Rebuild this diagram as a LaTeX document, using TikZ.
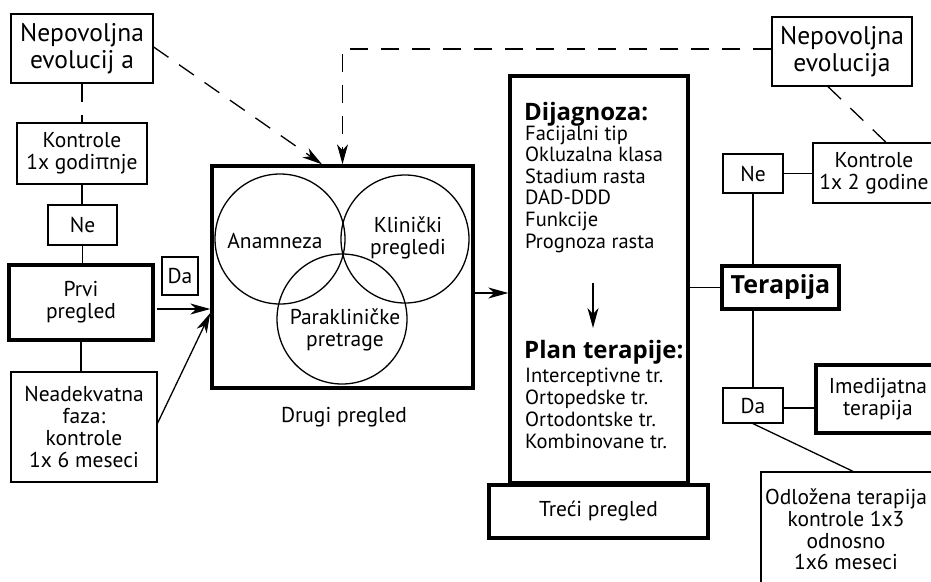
\documentclass[tikz,border=0pt]{standalone}
\usepackage{fontspec}
\setmainfont{PT Sans}
\newfontfamily\pifont{Open Sans}
\newfontfamily\headfont{Open Sans Bold}
\usetikzlibrary{arrows.meta}

\begin{document}
\begin{tikzpicture}[x=1pt,y=-1pt,
  every node/.style={font=\fontsize{21.5}{21.8}\selectfont, inner sep=0pt},
  wide/.style={font=\fontsize{25.5}{27}\selectfont},
  listfont/.style={font=\fontsize{20.5}{21.6}\selectfont},
  head/.style={font=\headfont\fontsize{24}{24}\selectfont},
  box/.style={draw, line width=1.3pt, align=center},
  bbox/.style={draw, line width=3.4pt, align=center},
  conn/.style={line width=1.3pt},
  dashln/.style={line width=1.3pt, dash pattern=on 18pt off 13pt},
  arr/.style={-{Stealth[length=20pt,width=11pt,inset=6pt]}},
  ring/.style={circle, draw, line width=1.3pt, inner sep=0pt},
  listline/.style={anchor=base west}
]
\clip (0,0) rectangle (931,581);
\fill[white] (0,0) rectangle (931,581);

% ---- left column ----
\node[box, wide, minimum width=142pt, minimum height=69pt] (nep1) at (82,48.5) {Nepovoljna\\evolucij a};
\node[box, minimum width=130pt, minimum height=61pt] (kon1) at (82,153.5) {Kontrole\\1x godi{\pifont π}nje};
\node[box, minimum width=69pt, minimum height=40pt] (ne1) at (82.5,225) {Ne};
\node[bbox, minimum width=144pt, minimum height=75pt] (prvi) at (81,302.5) {Prvi\\pregled};
\node[box, minimum width=36pt, minimum height=38pt] (da1) at (180,276) {Da};
\node[box, minimum width=146pt, minimum height=110pt] (nead) at (84,427) {Neadekvatna\\faza:\\kontrole\\1x 6 meseci};

% ---- second examination ----
\node[bbox, minimum width=261pt, minimum height=222pt] (drugi) at (342.5,277) {};
\node[ring, minimum size=130pt] (cana) at (280,239) {};
\node[ring, minimum size=128pt] (ckli) at (405,239) {};
\node[ring, minimum size=130pt] (cpar) at (342,319) {};
\node (tana) at (275,241) {Anamneza};
\node[align=center] (tkli) at (408,238) {Klinički\\pregledi};
\node[align=center] (tpar) at (345,330) {Parakliničke\\pretrage};
\node (ldrugi) at (344,417) {Drugi pregled};

% ---- third examination ----
\node[bbox, minimum width=178pt, minimum height=407pt] (dij) at (599,279.5) {};
\node[bbox, minimum width=219pt, minimum height=53pt] (treci) at (598.5,511.5) {Treći pregled};
\node[listline, head] (d0) at (524,120) {Dijagnoza:};
\foreach \t [count=\i] in {Facijalni tip, Okluzalna klasa, Stadium rasta, DAD-DDD, Funkcije, Prognoza rasta}
  \node[listline, listfont] (d\i) at (525,{118.4+21.6*\i}) {\t};
\coordinate (ddown1) at (593,283);
\coordinate (ddown2) at (593,328);
\node[listline, head] (p0) at (524,358) {Plan terapije:};
\foreach \t [count=\i] in {Interceptivne tr., Ortopedske tr., Ortodontske tr., Kombinovane tr.}
  \node[listline, listfont] (p\i) at (525,{360+22*\i}) {\t};

% ---- right column ----
\node[box, wide, minimum width=140pt, minimum height=69pt] (nep2) at (842,51.5) {Nepovoljna\\evolucija};
\node[box, minimum width=134pt, minimum height=60pt] (kon2) at (880,173) {};
\node[align=center] (tkon2) at (874,173) {Kontrole\\1x 2 godine};
\node[box, minimum width=60pt, minimum height=39pt] (ne2) at (753,173.5) {Ne};
\node[bbox, minimum width=117pt, minimum height=43pt, font=\headfont\fontsize{25}{25}\selectfont] (ter) at (780.5,287.5) {Terapija};
\node[box, minimum width=60pt, minimum height=35pt] (da2) at (753,405.5) {Da};
\node[bbox, minimum width=124pt, minimum height=68pt] (imed) at (878,399) {Imedijatna\\terapija};
\node[draw, line width=1.3pt, minimum width=178pt, minimum height=140pt] (odl) at (850,542) {};
\node[align=center] (todl) at (846,529.5) {Odložena terapija\\kontrole 1x3\\odnosno\\1x6 meseci};

% ---- connectors ----
\draw[dashln] (nep1.south) -- (nep1.south |- kon1.north);
\draw[conn] (kon1.south) -- (ne1.north -| kon1.south);
\draw[conn] (ne1.south) -- (ne1.south |- prvi.north);
\draw[conn] (prvi.south) -- (prvi.south |- nead.north);
\coordinate (pa) at ([xshift=2pt,yshift=-6.5pt]prvi.east);
\draw[conn, arr] (pa) -- (pa -| drugi.west);
\draw[conn, arr] ([yshift=4pt]nead.east) -- ([yshift=-36pt]drugi.west);
\coordinate (da) at ([yshift=-16pt]drugi.east);
\draw[conn, arr] (da) -- (da -| dij.west);
\draw[dashln, arr] ([yshift=1.5pt]nep1.east) -- ([xshift=-20.5pt]drugi.north);
\coordinate (corner) at (nep2.west -| drugi.north);
\draw[dashln, arr] ([yshift=2.5pt]nep2.west) -- ([yshift=2.5pt]corner) -- (drugi.north);
\draw[dashln] ([xshift=-14pt]nep2.south) -- ([xshift=6pt]kon2.north);
\draw[conn, arr] (ddown1) -- (ddown2);
\draw[conn] (ne2.east) -- (ne2.east -| kon2.west);
\draw[conn] (ne2.south) -- (ne2.south |- ter.north);
\draw[conn] (ter.west -| dij.east) -- (ter.west);
\draw[conn] (da2.north) -- (da2.north |- ter.south);
\draw[conn] ([yshift=-2.5pt]da2.east) -- ([yshift=-2.5pt]da2.east -| imed.west);
\draw[conn] (da2.south) -- ([xshift=3pt]odl.north);
\end{tikzpicture}
\end{document}
